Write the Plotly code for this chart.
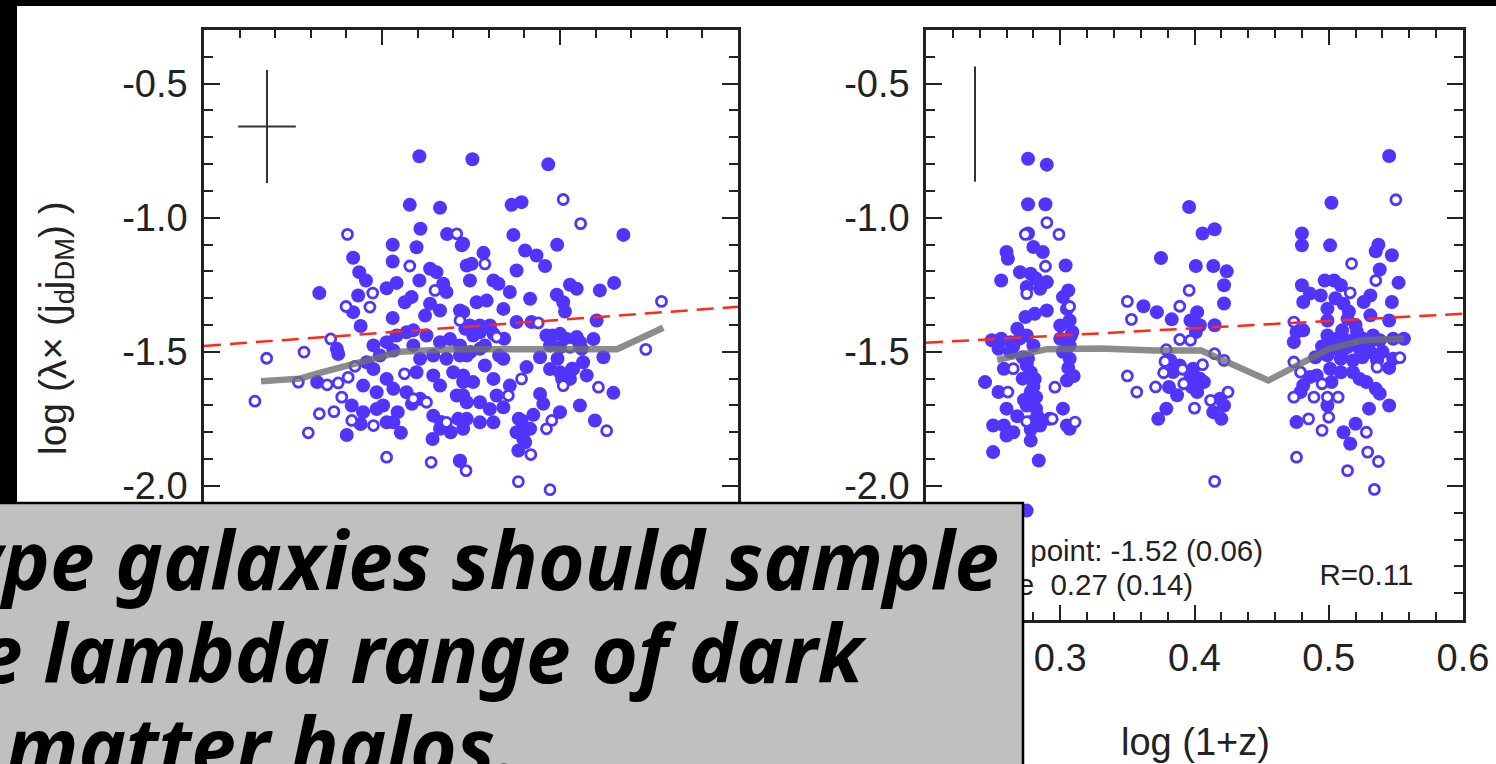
import plotly.graph_objects as go

W, H = 1496, 764
def px(x): return x / W
def py(y): return 1 - y / H

BLUE = "#5035ff"
INK = "#222222"

# ---------------- data: left panel (log M, hidden axis) ----------------
left_filled_x = [10.105, 10.078, 10.163, 10.108, 10.183, 10.224, 10.030, 10.097, 9.919, 10.030, 10.135, 10.153, 10.238,
                 9.936, 9.955, 10.105, 10.041, 10.013, 10.172, 10.181, 9.824, 9.933, 10.083, 10.064, 9.919, 10.135,
                 10.163, 10.219, 10.030, 10.121, 9.940, 10.247, 9.873, 9.877, 9.976, 10.013, 10.041, 10.069, 10.088,
                 10.125, 10.163, 10.191, 10.219, 9.994, 10.032, 10.088, 10.107, 10.144, 10.181, 10.219, 9.957, 9.976,
                 10.013, 10.097, 10.144, 10.163, 10.200, 10.228, 9.818, 9.947, 9.985, 10.032, 10.069, 10.107, 10.210,
                 10.238, 9.915, 9.947, 9.985, 9.940, 10.013, 10.032, 10.144, 10.163, 9.901, 10.053, 10.142, 10.228,
                 10.219,
                 10.254, 10.467, 10.364, 10.392, 10.369, 10.678, 10.228, 10.492, 10.285, 10.402, 10.434, 10.252, 10.378,
                 10.458, 10.247, 10.313, 10.327, 10.359, 10.416, 10.491, 10.528, 10.547, 10.612, 10.652, 10.509, 10.514,
                 10.266, 10.294, 10.341, 10.228, 10.603, 10.275, 10.303, 10.378, 10.420, 10.256, 10.313, 10.462, 10.500,
                 10.519, 10.547, 10.594, 10.472, 10.500, 10.556, 10.275, 10.341, 10.238, 10.622, 10.444, 10.406, 10.472,
                 10.500, 10.537, 10.565, 10.528, 10.228, 10.256, 10.313, 10.359, 10.444, 10.650, 10.453, 10.228, 10.275,
                 10.322, 10.303, 10.341, 10.556, 10.500, 10.238, 10.275, 10.313, 10.392, 10.416, 10.598, 10.378, 10.402,
                 10.383, 10.219,
                 10.234, 10.275, 10.302, 10.289, 10.248, 10.329, 10.289, 10.343, 10.479, 10.520, 10.561, 10.493, 10.534,
                 10.575, 10.506, 10.384, 10.411, 10.397, 10.425, 10.003, 10.044, 10.084, 10.166, 10.214, 10.193]
left_filled_y = [-0.771, -0.952, -0.963, -1.041, -1.061, -1.103, -1.101, -1.110, -1.149, -1.163, -1.190, -1.203, -1.178,
                 -1.203, -1.234, -1.234, -1.243, -1.263, -1.246, -1.277, -1.281, -1.290, -1.296, -1.315, -1.352, -1.321,
                 -1.346, -1.346, -1.374, -1.365, -1.404, -1.402, -1.489, -1.508, -1.476, -1.464, -1.439, -1.427, -1.420,
                 -1.439, -1.464, -1.452, -1.476, -1.514, -1.495, -1.476, -1.526, -1.514, -1.526, -1.514, -1.539, -1.564,
                 -1.601, -1.576, -1.588, -1.626, -1.576, -1.613, -1.613, -1.626, -1.651, -1.638, -1.651, -1.675, -1.663,
                 -1.688, -1.700, -1.725, -1.713, -1.769, -1.763, -1.763, -1.738, -1.787, -1.810, -1.802, -1.825, -1.787,
                 -1.906,
                 -0.782, -0.801, -0.952, -0.942, -1.064, -1.064, -1.097, -1.101, -1.131, -1.122, -1.141, -1.172, -1.197,
                 -1.180, -1.234, -1.234, -1.246, -1.277, -1.302, -1.287, -1.250, -1.265, -1.271, -1.243, -1.315, -1.350,
                 -1.315, -1.309, -1.340, -1.352, -1.383, -1.402, -1.402, -1.389, -1.389, -1.439, -1.433, -1.439, -1.433,
                 -1.452, -1.445, -1.452, -1.476, -1.483, -1.464, -1.489, -1.526, -1.514, -1.520, -1.520, -1.557, -1.564,
                 -1.576, -1.564, -1.539, -1.601, -1.588, -1.613, -1.601, -1.626, -1.657, -1.653, -1.694, -1.663, -1.688,
                 -1.663, -1.713, -1.707, -1.700, -1.725, -1.750, -1.763, -1.763, -1.756, -1.787, -1.756, -1.800, -1.837,
                 -1.868, -1.906,
                 -1.414, -1.427, -1.408, -1.476, -1.501, -1.514, -1.551, -1.451, -1.439, -1.464, -1.489, -1.526, -1.563,
                 -1.588, -1.601, -1.750, -1.787, -1.825, -1.735, -1.700, -1.725, -1.694, -1.762, -1.750, -1.800]
left_open_x = [9.903, 10.210, 10.078, 10.149, 9.974, 9.899, 9.966, 10.219, 9.856, 9.676, 9.781, 9.924, 10.063, 9.765,
               9.846, 9.877, 9.905, 10.088, 10.125, 9.643, 9.887, 9.824, 9.865, 9.915, 9.976, 10.181, 9.793, 10.013,
               10.138, 10.236,
               10.509, 10.558, 10.289, 10.785, 10.439, 10.322, 10.528, 10.741, 10.509, 10.608, 10.392, 10.355, 10.477,
               10.462, 10.631, 10.418, 10.383, 10.472]
left_open_y = [-1.062, -1.060, -1.180, -1.271, -1.281, -1.331, -1.333, -1.383, -1.452, -1.524, -1.501, -1.554, -1.582,
               -1.613, -1.623, -1.616, -1.595, -1.675, -1.688, -1.684, -1.669, -1.731, -1.723, -1.756, -1.775, -1.763,
               -1.802, -1.893, -1.912, -1.943,
               -0.932, -1.022, -1.172, -1.312, -1.392, -1.445, -1.483, -1.491, -1.626, -1.632, -1.601, -1.663, -1.756,
               -1.787, -1.794, -1.883, -1.984, -2.014]
left_median_x = [9.66, 9.77, 9.82, 9.91, 10.05, 10.20, 10.35, 10.50, 10.66, 10.79]
left_median_y = [-1.61, -1.60, -1.58, -1.55, -1.50, -1.49, -1.49, -1.49, -1.49, -1.41]
left_fit_x = [9.5, 11.0]
left_fit_y = [-1.478, -1.332]
left_err_x, left_err_y = [9.677], [-0.660]
left_err_dx, left_err_dy = [0.081], [0.211]

# ---------------- data: right panel (log(1+z)) ----------------
right_filled_x = [0.276, 0.290, 0.276, 0.289, 0.276, 0.280, 0.287, 0.260, 0.261, 0.270, 0.278, 0.304, 0.256, 0.282,
                  0.290, 0.275, 0.285, 0.306, 0.302, 0.290, 0.274, 0.281, 0.300, 0.307, 0.309, 0.268, 0.275, 0.249,
                  0.256, 0.263, 0.280, 0.300, 0.307, 0.254, 0.263, 0.276, 0.307, 0.244, 0.258, 0.278, 0.281, 0.305,
                  0.254, 0.278, 0.282, 0.260, 0.275, 0.282, 0.302, 0.250, 0.258, 0.265, 0.278, 0.285, 0.292, 0.305,
                  0.307, 0.260, 0.278, 0.250, 0.284, 0.275,
                  0.272, 0.275, 0.272, 0.280, 0.273, 0.283, 0.268, 0.278, 0.270, 0.265, 0.305, 0.308, 0.302, 0.306,
                  0.310,
                  0.396, 0.406, 0.415, 0.375, 0.401, 0.414, 0.424, 0.422, 0.422, 0.362, 0.372, 0.402, 0.383, 0.397,
                  0.404, 0.415, 0.401, 0.382, 0.389, 0.399, 0.384, 0.397, 0.404, 0.407, 0.381, 0.398, 0.387, 0.402,
                  0.419, 0.422, 0.379, 0.373, 0.414, 0.420,
                  0.545, 0.502, 0.480, 0.480, 0.501, 0.537, 0.535, 0.547, 0.538, 0.552, 0.480, 0.497, 0.504, 0.509,
                  0.486, 0.481, 0.494, 0.531, 0.547, 0.499, 0.511, 0.526, 0.545, 0.531, 0.514, 0.499, 0.476, 0.481,
                  0.474, 0.499, 0.506, 0.521, 0.533, 0.538, 0.556, 0.548, 0.505, 0.514, 0.523, 0.531, 0.499, 0.509,
                  0.518, 0.536, 0.548, 0.501, 0.509, 0.518, 0.523, 0.528, 0.486, 0.481, 0.491, 0.502, 0.535, 0.538,
                  0.479, 0.499, 0.530, 0.545, 0.476, 0.511, 0.520, 0.516,
                  0.505, 0.515, 0.520, 0.510, 0.500, 0.515, 0.525, 0.530, 0.510, 0.525, 0.495, 0.540, 0.545, 0.490]
right_filled_y = [-0.780, -0.802, -0.950, -0.950, -1.059, -1.109, -1.128, -1.128, -1.153, -1.203, -1.209, -1.178,
                  -1.234, -1.227, -1.240, -1.258, -1.265, -1.271, -1.296, -1.346, -1.370, -1.358, -1.402, -1.383,
                  -1.426, -1.414, -1.439, -1.457, -1.451, -1.464, -1.476, -1.451, -1.476, -1.489, -1.501, -1.526,
                  -1.526, -1.613, -1.563, -1.576, -1.601, -1.607, -1.650, -1.650, -1.669, -1.712, -1.700, -1.712,
                  -1.712, -1.775, -1.775, -1.800, -1.762, -1.775, -1.750, -1.775, -1.787, -1.812, -1.831, -1.874,
                  -1.905, -2.092,
                  -1.520, -1.550, -1.600, -1.630, -1.680, -1.740, -1.740, -1.790, -1.450, -1.480, -1.340, -1.440,
                  -1.500, -1.560, -1.590,
                  -0.960, -1.059, -1.043, -1.150, -1.180, -1.180, -1.200, -1.252, -1.320, -1.330, -1.352, -1.352,
                  -1.379, -1.383, -1.401, -1.401, -1.426, -1.532, -1.551, -1.563, -1.575, -1.588, -1.600, -1.613,
                  -1.631, -1.631, -1.662, -1.650, -1.675, -1.700, -1.712, -1.750, -1.725, -1.750,
                  -0.770, -0.944, -1.059, -1.103, -1.103, -1.101, -1.125, -1.140, -1.193, -1.242, -1.252, -1.234,
                  -1.234, -1.252, -1.283, -1.314, -1.290, -1.290, -1.314, -1.339, -1.321, -1.314, -1.383, -1.364,
                  -1.377, -1.383, -1.426, -1.420, -1.464, -1.439, -1.451, -1.426, -1.439, -1.457, -1.451, -1.451,
                  -1.489, -1.482, -1.489, -1.501, -1.513, -1.526, -1.532, -1.532, -1.526, -1.563, -1.576, -1.576,
                  -1.601, -1.613, -1.594, -1.625, -1.588, -1.613, -1.638, -1.656, -1.650, -1.700, -1.712, -1.700,
                  -1.762, -1.800, -1.768, -1.843,
                  -1.300, -1.350, -1.400, -1.420, -1.460, -1.460, -1.450, -1.470, -1.500, -1.520, -1.480, -1.500,
                  -1.560, -1.520]
right_open_x = [0.290, 0.299, 0.274, 0.289, 0.275, 0.307, 0.265, 0.296, 0.261, 0.275, 0.294, 0.311,
                0.396, 0.350, 0.389, 0.353, 0.389, 0.397, 0.379, 0.415, 0.422, 0.378, 0.406, 0.377, 0.391, 0.350,
                0.371, 0.392, 0.357, 0.412, 0.425, 0.400, 0.415,
                0.550, 0.517, 0.535, 0.516, 0.474, 0.553, 0.474, 0.536, 0.479, 0.495, 0.474, 0.489, 0.499, 0.507,
                0.500, 0.485, 0.495, 0.528, 0.476, 0.529, 0.537, 0.514, 0.534]
right_open_y = [-1.018, -1.062, -1.062, -1.181, -1.283, -1.331, -1.563, -1.632, -1.650, -1.760, -1.750, -1.762,
                -1.271, -1.312, -1.330, -1.379, -1.454, -1.457, -1.492, -1.507, -1.532, -1.536, -1.548, -1.578,
                -1.565, -1.590, -1.631, -1.619, -1.650, -1.681, -1.650, -1.710, -1.983,
                -0.933, -1.171, -1.234, -1.280, -1.389, -1.522, -1.538, -1.557, -1.576, -1.619, -1.669, -1.669,
                -1.669, -1.669, -1.744, -1.750, -1.793, -1.800, -1.893, -1.874, -1.909, -1.943, -2.013]
right_median_x = [0.253, 0.29, 0.33, 0.37, 0.405, 0.455, 0.50, 0.525, 0.556]
right_median_y = [-1.53, -1.49, -1.488, -1.495, -1.495, -1.607, -1.49, -1.457, -1.451]
right_fit_x = [0.2, 0.6]
right_fit_y = [-1.466, -1.358]
right_err_x, right_err_y, right_err_dy = [0.2365], [-0.651], [0.2145]

# fit statistics printed inside the right panel (label text, anchor x, anchor y)
stat_labels = ["Zero point: -1.52 (0.06)", "Slope\u00a0\u00a00.27 (0.14)", "R=0.11"]
stat_x = [0.4511, 0.3990, 0.5630]
stat_y = [-2.252, -2.378, -2.342]

y_ticks = [-2.0, -1.5, -1.0, -0.5]
y_ticktext = ["-2.0", "-1.5", "-1.0", "-0.5"]
x2_ticks = [0.2, 0.3, 0.4, 0.5, 0.6]
x2_ticktext = ["0.2", "0.3", "0.4", "0.5", "0.6"]
x1_ticks = [9.5, 10.0, 10.5, 11.0]

fig = go.Figure()

def add_panel(xa, ya, fx, fy, ox, oy, mx, my, fitx, fity):
    fig.add_trace(go.Scatter(x=fx, y=fy, mode="markers", xaxis=xa, yaxis=ya,
                             marker=dict(size=14, color=BLUE, line=dict(width=0)), showlegend=False))
    fig.add_trace(go.Scatter(x=ox, y=oy, mode="markers", xaxis=xa, yaxis=ya,
                             marker=dict(size=10, color="white", line=dict(width=2.8, color=BLUE)),
                             showlegend=False))
    fig.add_trace(go.Scatter(x=fitx, y=fity, mode="lines", xaxis=xa, yaxis=ya,
                             line=dict(color="#ff2a1a", width=2.5, dash="17px,9px"), showlegend=False))
    fig.add_trace(go.Scatter(x=mx, y=my, mode="lines", xaxis=xa, yaxis=ya, opacity=0.8,
                             line=dict(color="#707070", width=6.5), showlegend=False))

add_panel("x", "y", left_filled_x, left_filled_y, left_open_x, left_open_y,
          left_median_x, left_median_y, left_fit_x, left_fit_y)
add_panel("x2", "y2", right_filled_x, right_filled_y, right_open_x, right_open_y,
          right_median_x, right_median_y, right_fit_x, right_fit_y)

fig.add_trace(go.Scatter(x=left_err_x, y=left_err_y, mode="markers", xaxis="x", yaxis="y",
                         marker=dict(size=1, color="rgba(0,0,0,0)"), showlegend=False,
                         error_x=dict(type="data", array=left_err_dx, width=0, thickness=2, color="#333"),
                         error_y=dict(type="data", array=left_err_dy, width=0, thickness=2, color="#333")))
fig.add_trace(go.Scatter(x=right_err_x, y=right_err_y, mode="markers", xaxis="x2", yaxis="y2",
                         marker=dict(size=1, color="rgba(0,0,0,0)"), showlegend=False,
                         error_y=dict(type="data", array=right_err_dy, width=0, thickness=2, color="#333")))

SFAM = "Liberation Sans, Arial, sans-serif"
fig.add_trace(go.Scatter(x=stat_x, y=stat_y, text=stat_labels, mode="text", xaxis="x2", yaxis="y2",
                         textposition="middle left", cliponaxis=False,
                         textfont=dict(family=SFAM, size=29.5, color=INK), showlegend=False))

TF = dict(family=SFAM, size=38, color=INK)
common = dict(ticks="inside", tickwidth=2, tickcolor=INK, showline=True, linewidth=2.5, linecolor=INK,
              mirror="ticks", showgrid=False, zeroline=False, automargin=False, tickfont=TF)
ydom = [py(620), py(30)]
yax = dict(common, domain=ydom, range=[-2.5, -0.3], tickmode="array", tickvals=y_ticks, ticktext=y_ticktext,
           ticklen=16, ticklabelstandoff=6,
           minor=dict(dtick=0.1, tick0=0, ticks="inside", ticklen=9, tickwidth=2, tickcolor=INK))
fig.update_layout(
    width=W, height=H, margin=dict(l=0, r=0, t=0, b=0),
    paper_bgcolor="white", plot_bgcolor="white",
    xaxis=dict(common, domain=[px(204), px(738)], range=[9.5, 11.0], anchor="y", tickmode="array",
               tickvals=x1_ticks, showticklabels=False, ticklen=15,
               minor=dict(dtick=0.1, tick0=0, ticks="inside", ticklen=8, tickwidth=2, tickcolor=INK)),
    yaxis=dict(yax, anchor="x"),
    xaxis2=dict(common, domain=[px(926), px(1463)], range=[0.2, 0.6], anchor="y2", tickmode="array",
                tickvals=x2_ticks, ticktext=x2_ticktext, ticklen=15, ticklabelstandoff=3,
                minor=dict(dtick=0.02, tick0=0, ticks="inside", ticklen=8, tickwidth=2, tickcolor=INK)),
    yaxis2=dict(yax, anchor="x2"),
)

shapes = [
    dict(type="rect", xref="paper", yref="paper", x0=0, x1=px(17), y0=0, y1=1,
         fillcolor="black", line=dict(width=0), layer="above"),
    dict(type="rect", xref="paper", yref="paper", x0=0, x1=1, y0=py(6), y1=1,
         fillcolor="black", line=dict(width=0), layer="above"),
    dict(type="rect", xref="paper", yref="paper", x0=px(-10), x1=px(1023), y0=py(800), y1=py(503),
         fillcolor="#c0c0c0", line=dict(width=2.5, color="black"), layer="above"),
]
fig.update_layout(shapes=shapes)

BF = dict(family="Noto Sans, sans-serif", size=80, color="black", weight="bold", style="italic")
ann = [
    dict(text="log (λ× (j<sub>d</sub>j<sub>DM</sub>) )", x=px(55), y=py(328), textangle=-90,
         font=dict(family=SFAM, size=39, color=INK), xanchor="center", yanchor="middle"),
    dict(text="log (1+z)", x=px(1195), y=py(742), font=dict(family=SFAM, size=38, color=INK),
         xanchor="center", yanchor="middle"),
    dict(text="Late-type galaxies should sample", x=px(1001), y=py(558), font=BF,
         xanchor="right", yanchor="middle"),
    dict(text="the lambda range of dark", x=px(869), y=py(651), font=BF, xanchor="right", yanchor="middle"),
    dict(text="matter halos.", x=px(4), y=py(744), font=BF, xanchor="left", yanchor="middle"),
]
for a in ann:
    a["xref"] = "paper"
    a["yref"] = "paper"
    a["showarrow"] = False
fig.update_layout(annotations=ann)

fig.write_html("out.html", config={"displayModeBar": False},
               post_script="document.body.style.margin='0px';document.body.style.overflow='hidden';")
